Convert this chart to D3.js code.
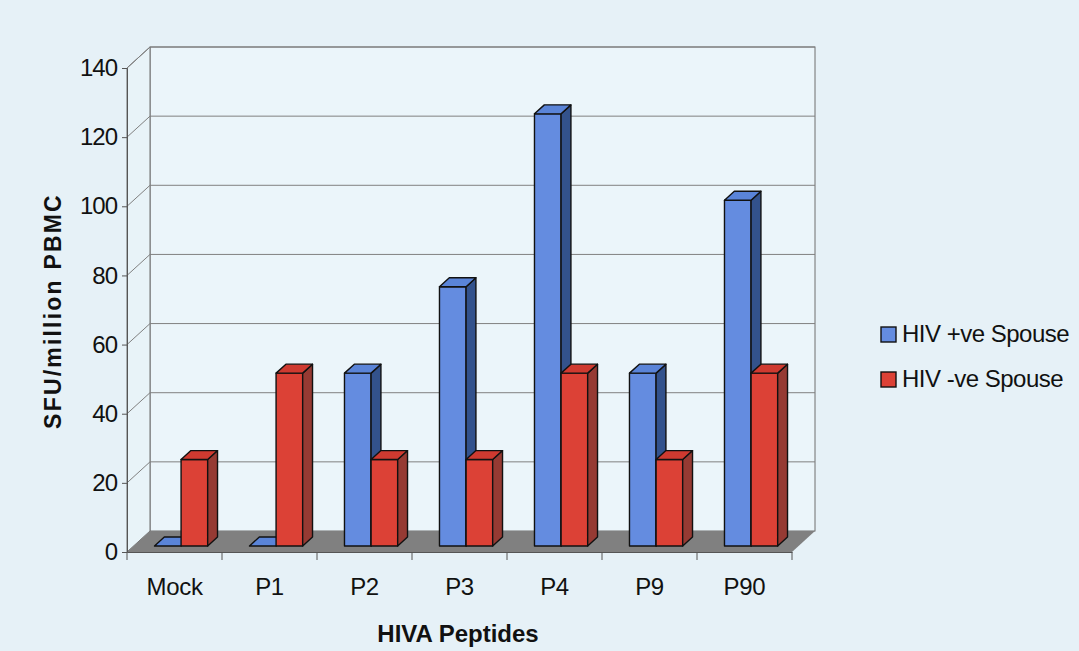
<!DOCTYPE html>
<html>
<head>
<meta charset="utf-8">
<script src="https://cdn.jsdelivr.net/npm/d3@7"></script>
<style>
  html, body { margin: 0; padding: 0; background: #e6f1f7; }
  svg { display: block; font-family: "Liberation Sans", Arial, sans-serif; }
</style>
</head>
<body>
<svg id="chart" width="1079" height="651"></svg>
<script>
// data
const categories = ["Mock", "P1", "P2", "P3", "P4", "P9", "P90"];
const seriesNames = ["HIV +ve Spouse", "HIV -ve Spouse"];
const hivPositive = [0, 0, 50, 75, 125, 50, 100];
const hivNegative = [25, 50, 25, 25, 50, 25, 50];
const yTicks = [0, 20, 40, 60, 80, 100, 120, 140];

const series = [hivPositive, hivNegative];
const palette = [
  { front: "#648ce0", side: "#33528c", top: "#5a84d8" },
  { front: "#dc4136", side: "#963a33", top: "#cf3a30" }
];

const svg = d3.select("#chart");

// 3d box geometry
const depthX = 23, depthY = -21;          // wall depth offset
const barD0 = 0.286, barD1 = 0.714;       // bar front/back as fraction of depth
const groupFrac = 0.56;                   // share of category band used by bars

const yScale = d3.scaleLinear().domain([0, 140]).range([552, 68]);
const xScale = d3.scaleBand().domain(categories).range([127, 792]).padding(0);

const y0 = yScale(0), yTop = yScale(140);
const xL = xScale.range()[0], xR = xScale.range()[1];

// back wall
svg.append("rect")
  .attr("x", xL + depthX).attr("y", yTop + depthY)
  .attr("width", xR - xL).attr("height", y0 - yTop)
  .attr("fill", "#ebf5fa").attr("stroke", "#6f6f6f").attr("stroke-width", 1);

// left wall
svg.append("path")
  .attr("d", `M${xL},${y0} L${xL},${yTop} L${xL + depthX},${yTop + depthY} L${xL + depthX},${y0 + depthY} Z`)
  .attr("fill", "#e8f3f8").attr("stroke", "#6f6f6f").attr("stroke-width", 1);

// gridlines: left wall diagonal + back wall horizontal
const grid = svg.append("g").attr("stroke", "#808080").attr("stroke-width", 1).attr("fill", "none");
yTicks.filter(t => t > 0).forEach(t => {
  const y = yScale(t);
  grid.append("path")
    .attr("d", `M${xL},${y} L${xL + depthX},${y + depthY} L${xR + depthX},${y + depthY}`);
});

// floor
svg.append("path")
  .attr("d", `M${xL},${y0} L${xR},${y0} L${xR + depthX},${y0 + depthY} L${xL + depthX},${y0 + depthY} Z`)
  .attr("fill", "#808080");

// bars
const bandW = xScale.bandwidth();
const barW = bandW * groupFrac / series.length;
const bx = depthX * barD0, by = depthY * barD0;
const sx = depthX * (barD1 - barD0), sy = depthY * (barD1 - barD0);

const bars = svg.append("g").attr("stroke", "#111").attr("stroke-width", 1.4).attr("stroke-linejoin", "round");
categories.forEach((c, ci) => {
  series.forEach((vals, si) => {
    const v = vals[ci];
    const col = palette[si];
    const x0 = xScale(c) + bx + (bandW - barW * series.length) / 2 + si * barW;
    const x1 = x0 + barW;
    const yb = y0 + by;
    const yt = yScale(v) + by;
    const g = bars.append("g");
    if (v > 0) {
      g.append("path").attr("fill", col.front)
        .attr("d", `M${x0},${yb} L${x1},${yb} L${x1},${yt} L${x0},${yt} Z`);
      g.append("path").attr("fill", col.side)
        .attr("d", `M${x1},${yb} L${x1 + sx},${yb + sy} L${x1 + sx},${yt + sy} L${x1},${yt} Z`);
    }
    g.append("path").attr("fill", col.top)
      .attr("d", `M${x0},${yt} L${x1},${yt} L${x1 + sx},${yt + sy} L${x0 + sx},${yt + sy} Z`);
  });
});

// y axis (front edge)
const yAxis = d3.axisLeft(yScale).tickValues(yTicks).tickSize(5).tickPadding(5).tickFormat(d3.format("d"));
const yG = svg.append("g").attr("transform", `translate(${xL},0)`).call(yAxis);
yG.select(".domain").attr("stroke", "#555");
yG.selectAll(".tick line").attr("stroke", "#555");
yG.selectAll(".tick text")
  .attr("fill", "#111").attr("font-size", 24).attr("letter-spacing", -1)
  .attr("font-family", "Liberation Sans, Arial, sans-serif");

// x axis: labels at band centers, ticks at band edges
const xAxis = d3.axisBottom(xScale).tickSize(0).tickPadding(26);
const xG = svg.append("g").attr("transform", `translate(0,${y0})`).call(xAxis);
xG.select(".domain").attr("stroke", "#555");
xG.selectAll(".tick text")
  .attr("fill", "#111").attr("font-size", 24).attr("letter-spacing", -0.3)
  .attr("font-family", "Liberation Sans, Arial, sans-serif");
xG.selectAll(".edge")
  .data(categories.map(c => xScale(c)).concat([xR]))
  .join("line")
  .attr("class", "edge")
  .attr("x1", d => d).attr("x2", d => d)
  .attr("y1", 0).attr("y2", 8)
  .attr("stroke", "#555");

// axis titles
svg.append("text")
  .attr("x", 458).attr("y", 642)
  .attr("text-anchor", "middle")
  .attr("font-size", 24).attr("font-weight", "bold").attr("fill", "#111")
  .text("HIVA Peptides");

svg.append("text")
  .attr("transform", "translate(61,311) rotate(-90)")
  .attr("text-anchor", "middle")
  .attr("font-size", 23).attr("font-weight", "bold").attr("fill", "#111")
  .attr("letter-spacing", 2.2)
  .text("SFU/million PBMC");

// legend
const legend = svg.append("g").attr("transform", "translate(881,327)");
seriesNames.forEach((name, i) => {
  const row = legend.append("g").attr("transform", `translate(0,${i * 45})`);
  row.append("rect")
    .attr("width", 15).attr("height", 15)
    .attr("fill", palette[i].front).attr("stroke", "#111").attr("stroke-width", 1.4);
  row.append("text")
    .attr("x", 21).attr("y", 15)
    .attr("font-size", 24).attr("fill", "#111").attr("letter-spacing", -0.5)
    .text(name);
});
</script>
</body>
</html>
